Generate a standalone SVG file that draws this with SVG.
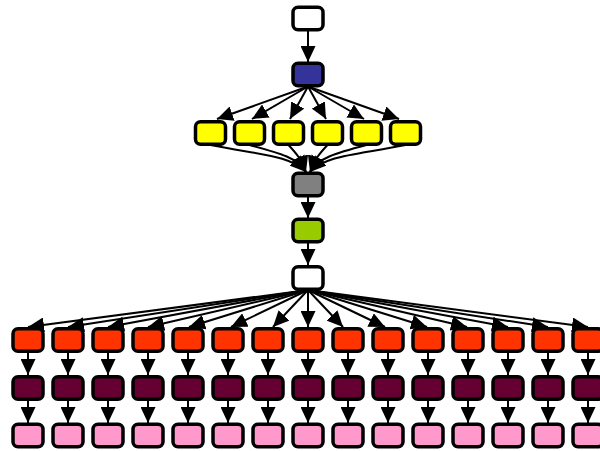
<svg xmlns="http://www.w3.org/2000/svg" width="600" height="451" viewBox="0 0 600 451">
<style>
.n{stroke:#000;stroke-width:3.5}
.w{fill:#ffffff}.b{fill:#333399}.y{fill:#ffff00}.g{fill:#808080}.l{fill:#99cc00}.r{fill:#ff3300}.d{fill:#660033}.p{fill:#ff99cc}
.e{fill:none;stroke:#000;stroke-width:2;marker-end:url(#ah)}
</style>
<defs>
<marker id="ah" markerUnits="userSpaceOnUse" markerWidth="16" markerHeight="15" refX="16" refY="7.5" orient="auto">
<path d="M0,0 L16,7.5 L0,15 z" fill="#000"/>
</marker>
<rect id="box" x="-15" y="-11.25" width="30" height="22.5" rx="5" ry="5"/>
</defs>
<rect width="600" height="451" fill="#fff"/>
<g id="edges">
<path class="e" d="M308,31 L308,62"/>
<path class="e" d="M308,86.5 L217,119"/>
<path class="e" d="M308,86.5 L252,119"/>
<path class="e" d="M308,86.5 L290,119"/>
<path class="e" d="M308,86.5 L326,119"/>
<path class="e" d="M308,86.5 L364,119"/>
<path class="e" d="M308,86.5 L399,119"/>
<path class="e" d="M210.5,145 C260,155 290,155 306,172"/>
<path class="e" d="M249.5,145 C280,153 298,158 306,172"/>
<path class="e" d="M288.5,145 C296,153 302,160 306,172"/>
<path class="e" d="M327.5,145 C320,153 314,160 310,172"/>
<path class="e" d="M366.5,145 C336,153 318,158 310,172"/>
<path class="e" d="M405.5,145 C356,155 326,155 310,172"/>
<path class="e" d="M308,196.5 L308,218"/>
<path class="e" d="M308,242.5 L308,265"/>
<path class="e" d="M308,290 L28,327"/>
<path class="e" d="M308,290 L68,327"/>
<path class="e" d="M308,290 L108,327"/>
<path class="e" d="M308,290 L148,327"/>
<path class="e" d="M308,290 L189,327"/>
<path class="e" d="M308,290 L231,327"/>
<path class="e" d="M308,290 L273,327"/>
<path class="e" d="M308,290 L308,327"/>
<path class="e" d="M308,290 L343,327"/>
<path class="e" d="M308,290 L385,327"/>
<path class="e" d="M308,290 L427,327"/>
<path class="e" d="M308,290 L467,327"/>
<path class="e" d="M308,290 L508,327"/>
<path class="e" d="M308,290 L548,327"/>
<path class="e" d="M308,290 L588,327"/>
<path class="e" d="M28,351.5 L28,375"/><path class="e" d="M68,351.5 L68,375"/><path class="e" d="M108,351.5 L108,375"/><path class="e" d="M148,351.5 L148,375"/><path class="e" d="M188,351.5 L188,375"/><path class="e" d="M228,351.5 L228,375"/><path class="e" d="M268,351.5 L268,375"/><path class="e" d="M308,351.5 L308,375"/><path class="e" d="M348,351.5 L348,375"/><path class="e" d="M388,351.5 L388,375"/><path class="e" d="M428,351.5 L428,375"/><path class="e" d="M468,351.5 L468,375"/><path class="e" d="M508,351.5 L508,375"/><path class="e" d="M548,351.5 L548,375"/><path class="e" d="M588,351.5 L588,375"/>
<path class="e" d="M28,399.5 L28,423"/><path class="e" d="M68,399.5 L68,423"/><path class="e" d="M108,399.5 L108,423"/><path class="e" d="M148,399.5 L148,423"/><path class="e" d="M188,399.5 L188,423"/><path class="e" d="M228,399.5 L228,423"/><path class="e" d="M268,399.5 L268,423"/><path class="e" d="M308,399.5 L308,423"/><path class="e" d="M348,399.5 L348,423"/><path class="e" d="M388,399.5 L388,423"/><path class="e" d="M428,399.5 L428,423"/><path class="e" d="M468,399.5 L468,423"/><path class="e" d="M508,399.5 L508,423"/><path class="e" d="M548,399.5 L548,423"/><path class="e" d="M588,399.5 L588,423"/>
</g>
<g id="top"><use href="#box" class="n w" x="308" y="18.5"/></g>
<g id="blue"><use href="#box" class="n b" x="308" y="74.5"/></g>
<g id="y1"><use href="#box" class="n y" x="210.5" y="133"/></g>
<g id="y2"><use href="#box" class="n y" x="249.5" y="133"/></g>
<g id="y3"><use href="#box" class="n y" x="288.5" y="133"/></g>
<g id="y4"><use href="#box" class="n y" x="327.5" y="133"/></g>
<g id="y5"><use href="#box" class="n y" x="366.5" y="133"/></g>
<g id="y6"><use href="#box" class="n y" x="405.5" y="133"/></g>
<g id="gray"><use href="#box" class="n g" x="308" y="184.5"/></g>
<g id="green"><use href="#box" class="n l" x="308" y="230.5"/></g>
<g id="hub"><use href="#box" class="n w" x="308" y="278"/></g>
<g id="r1"><use href="#box" class="n r" x="28" y="340"/></g>
<g id="r2"><use href="#box" class="n r" x="68" y="340"/></g>
<g id="r3"><use href="#box" class="n r" x="108" y="340"/></g>
<g id="r4"><use href="#box" class="n r" x="148" y="340"/></g>
<g id="r5"><use href="#box" class="n r" x="188" y="340"/></g>
<g id="r6"><use href="#box" class="n r" x="228" y="340"/></g>
<g id="r7"><use href="#box" class="n r" x="268" y="340"/></g>
<g id="r8"><use href="#box" class="n r" x="308" y="340"/></g>
<g id="r9"><use href="#box" class="n r" x="348" y="340"/></g>
<g id="r10"><use href="#box" class="n r" x="388" y="340"/></g>
<g id="r11"><use href="#box" class="n r" x="428" y="340"/></g>
<g id="r12"><use href="#box" class="n r" x="468" y="340"/></g>
<g id="r13"><use href="#box" class="n r" x="508" y="340"/></g>
<g id="r14"><use href="#box" class="n r" x="548" y="340"/></g>
<g id="r15"><use href="#box" class="n r" x="588" y="340"/></g>
<g id="d1"><use href="#box" class="n d" x="28" y="388"/></g>
<g id="d2"><use href="#box" class="n d" x="68" y="388"/></g>
<g id="d3"><use href="#box" class="n d" x="108" y="388"/></g>
<g id="d4"><use href="#box" class="n d" x="148" y="388"/></g>
<g id="d5"><use href="#box" class="n d" x="188" y="388"/></g>
<g id="d6"><use href="#box" class="n d" x="228" y="388"/></g>
<g id="d7"><use href="#box" class="n d" x="268" y="388"/></g>
<g id="d8"><use href="#box" class="n d" x="308" y="388"/></g>
<g id="d9"><use href="#box" class="n d" x="348" y="388"/></g>
<g id="d10"><use href="#box" class="n d" x="388" y="388"/></g>
<g id="d11"><use href="#box" class="n d" x="428" y="388"/></g>
<g id="d12"><use href="#box" class="n d" x="468" y="388"/></g>
<g id="d13"><use href="#box" class="n d" x="508" y="388"/></g>
<g id="d14"><use href="#box" class="n d" x="548" y="388"/></g>
<g id="d15"><use href="#box" class="n d" x="588" y="388"/></g>
<g id="p1"><use href="#box" class="n p" x="28" y="435.5"/></g>
<g id="p2"><use href="#box" class="n p" x="68" y="435.5"/></g>
<g id="p3"><use href="#box" class="n p" x="108" y="435.5"/></g>
<g id="p4"><use href="#box" class="n p" x="148" y="435.5"/></g>
<g id="p5"><use href="#box" class="n p" x="188" y="435.5"/></g>
<g id="p6"><use href="#box" class="n p" x="228" y="435.5"/></g>
<g id="p7"><use href="#box" class="n p" x="268" y="435.5"/></g>
<g id="p8"><use href="#box" class="n p" x="308" y="435.5"/></g>
<g id="p9"><use href="#box" class="n p" x="348" y="435.5"/></g>
<g id="p10"><use href="#box" class="n p" x="388" y="435.5"/></g>
<g id="p11"><use href="#box" class="n p" x="428" y="435.5"/></g>
<g id="p12"><use href="#box" class="n p" x="468" y="435.5"/></g>
<g id="p13"><use href="#box" class="n p" x="508" y="435.5"/></g>
<g id="p14"><use href="#box" class="n p" x="548" y="435.5"/></g>
<g id="p15"><use href="#box" class="n p" x="588" y="435.5"/></g>
</svg>
